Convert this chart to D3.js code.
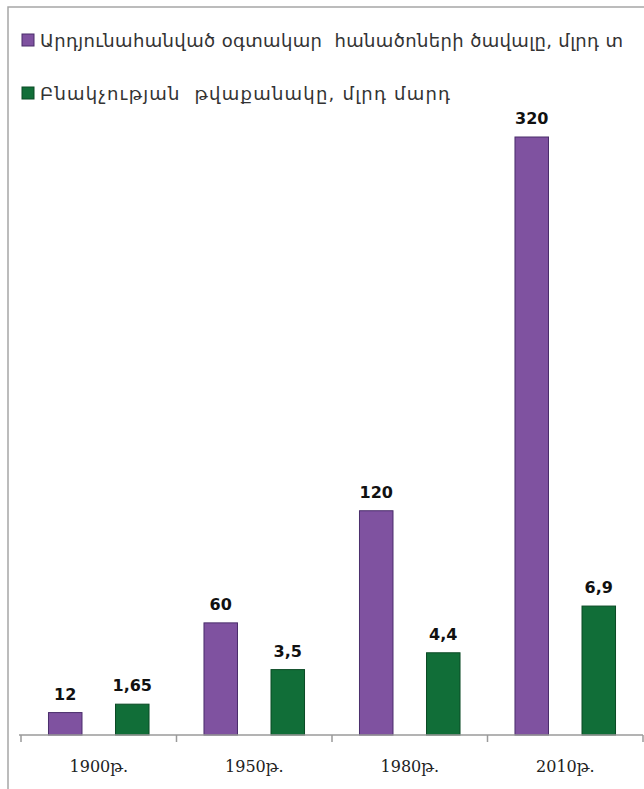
<!DOCTYPE html>
<html>
<head>
<meta charset="utf-8">
<script src="https://cdn.jsdelivr.net/npm/d3@7"></script>
<style>
  body { margin: 0; background: #fff; }
  svg text { white-space: pre; }
</style>
</head>
<body>
<svg id="chart"></svg>
<script>
// chart data
const years = ["1900թ.", "1950թ.", "1980թ.", "2010թ."];
const minerals = [12, 60, 120, 320];          // mlrd t
const population = [1.65, 3.5, 4.4, 6.9];     // mlrd people
const seriesNames = [
  "Արդյունահանված օգտակար  հանածոների ծավալը, մլրդ տ",
  "Բնակչության  թվաքանակը, մլրդ մարդ"
];
const seriesColors = ["#7f52a0", "#116e38"];
const seriesStrokes = ["#4a2d6b", "#0b4a25"];
const legendWidths = [583, 410];

const svgWidth = 644;
const svgHeight = 789;
const marginLeft = 21;
const marginRight = 1;
const plotTop = 137;
const baseY = 735;

const svg = d3.select("#chart")
  .attr("width", svgWidth)
  .attr("height", svgHeight);

// outer frame (only top and left show in the picture)
svg.append("rect")
  .attr("x", 8)
  .attr("y", 7)
  .attr("width", svgWidth + 20)
  .attr("height", svgHeight + 20)
  .attr("fill", "none")
  .attr("stroke", "#a6a6a6")
  .attr("stroke-width", 1.5);

const x = d3.scaleBand()
  .domain(years)
  .range([marginLeft, svgWidth - marginRight]);

const inner = d3.scaleBand()
  .domain([0, 1])
  .range([0, x.bandwidth()])
  .paddingInner(0.5)
  .paddingOuter(0.41);

// two independent value scales, like a chart with a hidden secondary axis
const yMin = d3.scaleLinear().domain([0, 320]).range([baseY, plotTop]);
const yPop = d3.scaleLinear().domain([0, 32]).range([baseY, plotTop]);
const scales = [yMin, yPop];
const series = [minerals, population];

const fmt = v => String(v).replace(".", ",");

series.forEach((vals, s) => {
  const y = scales[s];
  const g = svg.append("g");
  g.selectAll("rect")
    .data(vals)
    .join("rect")
    .attr("x", (d, i) => x(years[i]) + inner(s))
    .attr("y", d => y(d))
    .attr("width", inner.bandwidth())
    .attr("height", d => baseY - y(d))
    .attr("fill", seriesColors[s])
    .attr("stroke", seriesStrokes[s])
    .attr("stroke-width", 1);

  g.selectAll("text")
    .data(vals)
    .join("text")
    .attr("x", (d, i) => x(years[i]) + inner(s) + inner.bandwidth() / 2)
    .attr("y", d => y(d) - 13)
    .attr("text-anchor", "middle")
    .attr("font-family", "DejaVu Sans, sans-serif")
    .attr("font-weight", "bold")
    .attr("font-size", 16)
    .attr("fill", "#111")
    .text(d => fmt(d));
});

// x axis
const xAxis = svg.append("g")
  .attr("transform", "translate(0," + baseY + ")")
  .call(d3.axisBottom(x).tickSize(0).tickPadding(26));

xAxis.select(".domain")
  .attr("stroke", "#9a9a9a")
  .attr("stroke-width", 1.5)
  .attr("d", `M${marginLeft - 2},0H${svgWidth - marginRight}`);

xAxis.selectAll(".tick text")
  .attr("font-family", "DejaVu Serif, DejaVu Sans, serif")
  .attr("font-size", 16)
  .attr("fill", "#222");

// tick marks at the band edges
xAxis.selectAll(".edge")
  .data(years.map(d => x(d)).concat([x.range()[1]]))
  .join("line")
  .attr("class", "edge")
  .attr("x1", d => d)
  .attr("x2", d => d)
  .attr("y1", 0)
  .attr("y2", 7)
  .attr("stroke", "#9a9a9a")
  .attr("stroke-width", 1.5);

// legend
const legend = svg.append("g");
seriesNames.forEach((name, s) => {
  const ly = 47 + s * 53;
  legend.append("rect")
    .attr("x", 22)
    .attr("y", ly - 13)
    .attr("width", 12)
    .attr("height", 12)
    .attr("fill", seriesColors[s])
    .attr("stroke", seriesStrokes[s]);
  legend.append("text")
    .attr("x", 40)
    .attr("y", ly)
    .attr("font-family", "DejaVu Sans, sans-serif")
    .attr("font-size", 18)
    .attr("textLength", legendWidths[s])
    .attr("lengthAdjust", "spacing")
    .attr("fill", "#333")
    .text(name);
});
</script>
</body>
</html>
